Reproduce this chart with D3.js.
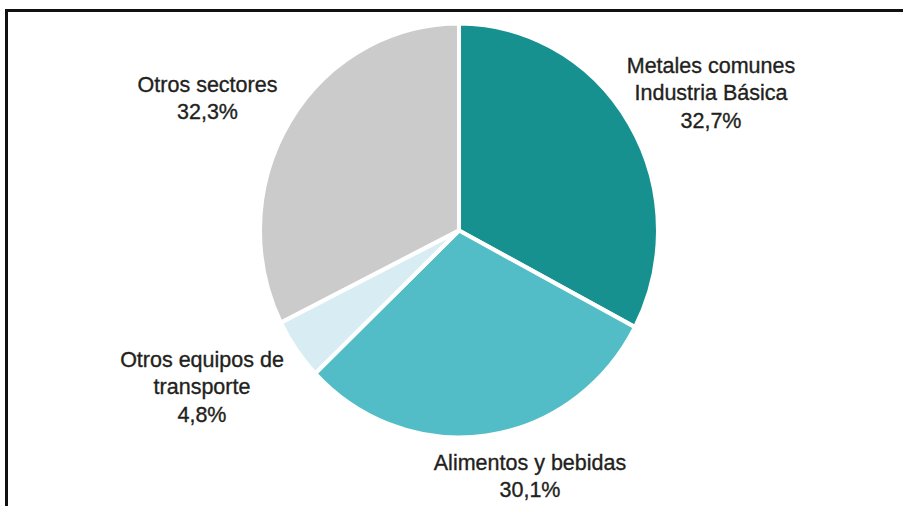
<!DOCTYPE html>
<html>
<head>
<meta charset="utf-8">
<script src="https://cdn.jsdelivr.net/npm/d3@7/dist/d3.min.js"></script>
<style>
  html, body { margin: 0; padding: 0; background: #fff; }
  svg { display: block; }
  .label { font-family: "Liberation Sans", Arial, sans-serif; font-size: 21.5px; fill: #231f20; stroke: #231f20; stroke-width: 0.35px; }
</style>
</head>
<body>
<svg id="chart" width="903" height="506"></svg>
<script>
// sectores (en orden horario desde las 12)
const sectors = ['Metales comunes Industria Básica', 'Alimentos y bebidas', 'Otros equipos de transporte', 'Otros sectores'];
const shares = [32.7, 30.1, 4.8, 32.3];
const labelLines = [
  ['Metales comunes', 'Industria Básica', '32,7%'],
  ['Alimentos y bebidas', '30,1%'],
  ['Otros equipos de', 'transporte', '4,8%'],
  ['Otros sectores', '32,3%']
];
const colors = ['#17918f', '#52bdc6', '#d8edf3', '#cbcbcb'];

const W = 903, H = 506;
const cx = 459, cy = 230.5;
const ry = 207, rx = 199;
// where each label block sits (first baseline)
const labelAt = [[711, 73], [530, 470], [202, 367], [207.5, 92]];
const lineH = 27.3;

const svg = d3.select('#chart');

// marco
svg.append('rect')
    .attr('x', 6.5).attr('y', 10.5)
    .attr('width', W + 10).attr('height', H + 10)
    .attr('fill', 'none')
    .attr('stroke', '#111')
    .attr('stroke-width', 3);

const pie = d3.pie().sort(null).value(d => d);
const arc = d3.arc().innerRadius(0).outerRadius(ry);

const g = svg.append('g')
    .attr('transform', `translate(${cx},${cy}) scale(${rx / ry},1)`);

g.selectAll('path')
  .data(pie(shares))
  .enter()
  .append('path')
    .attr('d', arc)
    .attr('fill', (d, i) => colors[i])
    .attr('stroke', '#fff')
    .attr('stroke-width', 4.2)
    .attr('stroke-linejoin', 'miter');

const labels = svg.selectAll('text.label')
  .data(labelLines)
  .enter()
  .append('text')
    .attr('class', 'label')
    .attr('text-anchor', 'middle')
    .attr('x', (d, i) => labelAt[i][0])
    .attr('y', (d, i) => labelAt[i][1]);

labels.each(function(lines, i) {
  d3.select(this).selectAll('tspan')
    .data(lines)
    .enter()
    .append('tspan')
      .attr('x', labelAt[i][0])
      .attr('dy', (d, j) => j === 0 ? 0 : lineH)
      .text(d => d);
});
</script>
</body>
</html>
